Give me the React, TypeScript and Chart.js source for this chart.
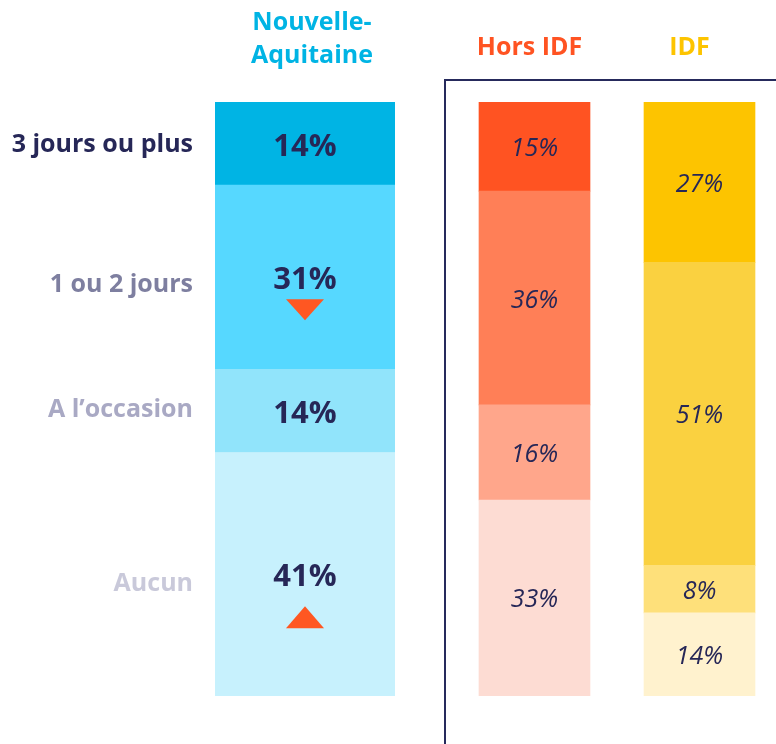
import React, { useEffect, useRef } from 'react';
import { Chart, registerables } from 'chart.js';
Chart.register(...registerables);

// Segments, bottom to top
const segments = ['Aucun', "A l\u2019occasion", '1 ou 2 jours', '3 jours ou plus'];
const segmentLabelColors = ['#C9C9DA', '#A9A9C4', '#7E7FA0', '#262757'];
const segmentLabelNudges = [8, -2, 6, 0];

const naHeader = ['Nouvelle-', 'Aquitaine'];
const naValues = [41, 14, 31, 14];
const naColors = ['#C7F1FD', '#91E4FB', '#56D8FF', '#00B4E4'];
const naArrows = ['up', null, 'down', null];

const rightCategories = ['Hors IDF', 'IDF'];
const horsValues = [33, 16, 36, 15];
const idfValues = [14, 8, 51, 27];
const horsColors = ['#FDDCD3', '#FFA68B', '#FF7F57', '#FF5322'];
const idfColors = ['#FFF2CE', '#FEE07A', '#FAD140', '#FDC400'];

const headerColors = ['#00B4E4', '#FF5322', '#FDC400'];
const headerNudges = [7, -5, -10];
const textColor = '#262757';
const arrowColor = '#FF5722';
const frameColor = '#262A5C';
const FONT = "'Open Sans', 'DejaVu Sans', sans-serif";

const baseOptions = (padding: any) => ({
  responsive: false,
  animation: false as const,
  devicePixelRatio: 1,
  layout: { padding },
  plugins: { legend: { display: false }, tooltip: { enabled: false } },
  scales: {
    x: { display: false, stacked: true },
    y: { display: false, stacked: true, min: 0, max: 100 },
  },
});

const naPlugin = {
  id: 'naLabels',
  afterDatasetsDraw(chart: any) {
    const ctx = chart.ctx;
    ctx.save();
    let barX = 0;
    chart.data.datasets.forEach((ds: any, i: number) => {
      const el = chart.getDatasetMeta(i).data[0];
      if (!el) return;
      barX = el.x;
      const cy = (el.y + el.base) / 2;
      // value
      ctx.font = `bold 31px ${FONT}`;
      ctx.fillStyle = textColor;
      ctx.textAlign = 'center';
      ctx.textBaseline = 'alphabetic';
      const base = cy + 12;
      ctx.fillText(`${ds.data[0]}%`, el.x, base);
      // segment label on the left
      ctx.font = `bold 25px ${FONT}`;
      ctx.fillStyle = segmentLabelColors[i];
      ctx.textAlign = 'right';
      ctx.fillText(segments[i], chart.chartArea.left - 22, cy + 8.5 + segmentLabelNudges[i]);
      // arrows
      const a = naArrows[i];
      if (a) {
        ctx.fillStyle = arrowColor;
        ctx.beginPath();
        if (a === 'down') {
          const top = base + 10;
          ctx.moveTo(el.x - 19, top);
          ctx.lineTo(el.x + 19, top);
          ctx.lineTo(el.x, top + 21);
        } else {
          const tip = base + 20;
          ctx.moveTo(el.x, tip);
          ctx.lineTo(el.x + 19, tip + 22);
          ctx.lineTo(el.x - 19, tip + 22);
        }
        ctx.closePath();
        ctx.fill();
      }
    });
    // header
    ctx.font = `bold 25px ${FONT}`;
    ctx.fillStyle = headerColors[0];
    ctx.textAlign = 'center';
    ctx.textBaseline = 'alphabetic';
    ctx.fillText(naHeader[0], barX + headerNudges[0], 30);
    ctx.fillText(naHeader[1], barX + headerNudges[0], 63);
    ctx.restore();
  },
};

const rightPlugin = {
  id: 'rightLabels',
  beforeDatasetsDraw(chart: any) {
    const ctx = chart.ctx;
    ctx.save();
    ctx.strokeStyle = frameColor;
    ctx.lineWidth = 2;
    ctx.beginPath();
    ctx.moveTo(1, chart.height);
    ctx.lineTo(1, 80);
    ctx.lineTo(chart.width, 80);
    ctx.stroke();
    ctx.restore();
  },
  afterDatasetsDraw(chart: any) {
    const ctx = chart.ctx;
    ctx.save();
    chart.data.datasets.forEach((ds: any, i: number) => {
      chart.getDatasetMeta(i).data.forEach((el: any, j: number) => {
        const cy = (el.y + el.base) / 2;
        ctx.font = `italic 25px ${FONT}`;
        ctx.fillStyle = textColor;
        ctx.textAlign = 'center';
        ctx.textBaseline = 'alphabetic';
        ctx.fillText(`${ds.data[j]}%`, el.x, cy + 9.5);
      });
    });
    const meta = chart.getDatasetMeta(0);
    rightCategories.forEach((c, j) => {
      const el = meta.data[j];
      ctx.font = `bold 25px ${FONT}`;
      ctx.fillStyle = headerColors[j + 1];
      ctx.textAlign = 'center';
      ctx.fillText(c, el.x + headerNudges[j + 1], 55);
    });
    ctx.restore();
  },
};

export default function App() {
  const leftRef = useRef<HTMLCanvasElement>(null);
  const rightRef = useRef<HTMLCanvasElement>(null);

  useEffect(() => {
    const left = new Chart(leftRef.current!, {
      type: 'bar',
      data: {
        labels: ['Nouvelle-Aquitaine'],
        datasets: segments.map((s, i) => ({
          label: s,
          data: [naValues[i]],
          backgroundColor: naColors[i],
          barPercentage: 1,
          categoryPercentage: 1,
          stack: 's',
        })),
      },
      options: baseOptions({ left: 215, right: 49, top: 102, bottom: 48 }) as any,
      plugins: [naPlugin],
    });
    const right = new Chart(rightRef.current!, {
      type: 'bar',
      data: {
        labels: rightCategories,
        datasets: segments.map((s, i) => ({
          label: s,
          data: [horsValues[i], idfValues[i]],
          backgroundColor: [horsColors[i], idfColors[i]],
          barThickness: 111,
          stack: 's',
        })),
      },
      options: baseOptions({ left: 8, right: 2, top: 102, bottom: 48 }) as any,
      plugins: [rightPlugin],
    });
    return () => {
      left.destroy();
      right.destroy();
    };
  }, []);

  return (
    <div
      style={{
        position: 'fixed',
        left: 0,
        top: 0,
        width: 776,
        height: 744,
        overflow: 'hidden',
        background: '#ffffff',
      }}
    >
      <canvas ref={leftRef} width={444} height={744} style={{ position: 'absolute', left: 0, top: 0 }} />
      <canvas ref={rightRef} width={340} height={744} style={{ position: 'absolute', left: 444, top: 0 }} />
    </div>
  );
}
